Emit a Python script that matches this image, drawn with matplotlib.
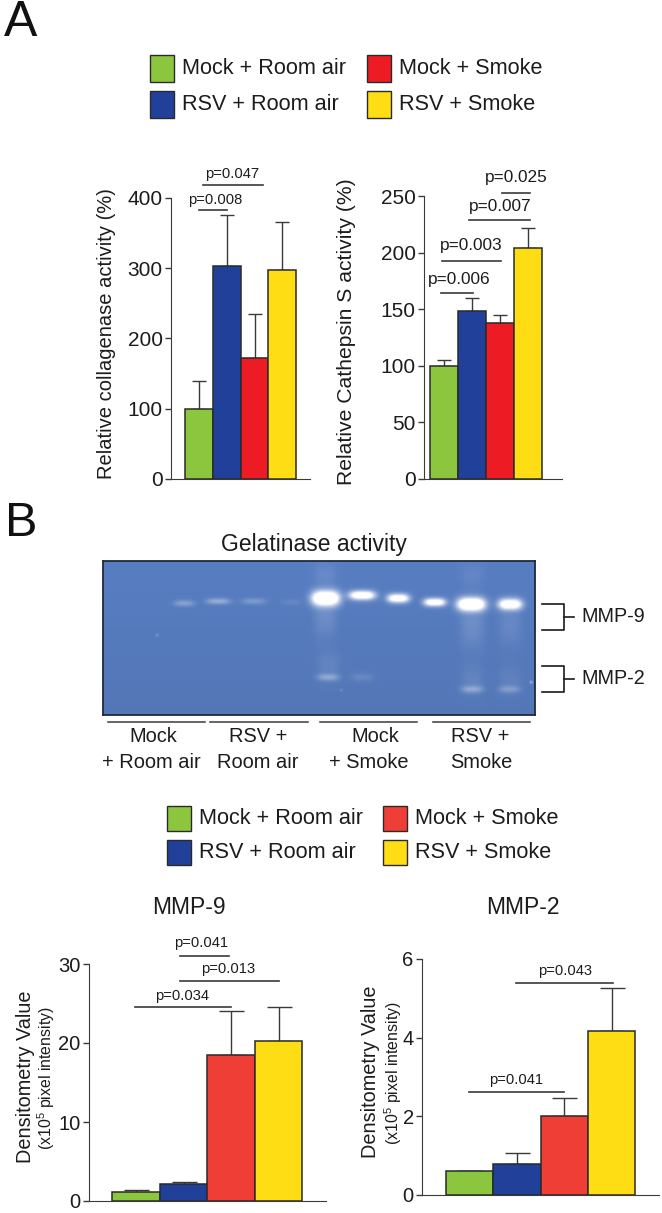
#!/usr/bin/env python3
"""Protease activity figure: panel A bar charts, panel B gel and densitometry."""
import numpy as np
import matplotlib

matplotlib.use("Agg")
import matplotlib.pyplot as plt
from matplotlib.patches import Rectangle

plt.rcParams["font.family"] = ["Liberation Sans", "DejaVu Sans"]
plt.rcParams["mathtext.default"] = "regular"

W, H = 662, 1213
INK = "#1c1c1c"
LINE = "#3a3a3a"

# --------------------------------------------------------------------------- #
# Data
# --------------------------------------------------------------------------- #
groups = ["Mock + Room air", "RSV + Room air", "Mock + Smoke", "RSV + Smoke"]

collagenase = [100, 303, 172, 297]
collagenase_top = [140, 376, 235, 365]
cathepsin = [100, 148, 138, 204]
cathepsin_top = [105, 160, 145, 222]
mmp9 = [1.1, 2.1, 18.5, 20.3]
mmp9_top = [1.45, 2.4, 24.0, 24.6]
mmp2 = [0.62, 0.8, 2.0, 4.17]
mmp2_top = [0.62, 1.08, 2.46, 5.27]

collagenase_ticks = [0, 100, 200, 300, 400]
cathepsin_ticks = [0, 50, 100, 150, 200, 250]
mmp9_ticks = [0, 10, 20, 30]
mmp2_ticks = [0, 2, 4, 6]

# p-value brackets: label, x from, x to, y of line, x of text, y of text
collagenase_p = [("p=0.008", 0, 1, 382, 0.57, 397),
                 ("p=0.047", 0.15, 2.3, 418, 1.21, 434)]
cathepsin_p = [("p=0.006", -0.1, 1.04, 164, 0.54, 176),
               ("p=0.003", -0.07, 2.04, 193, 0.97, 206),
               ("p=0.007", 0.9, 3.08, 229, 2.0, 241),
               ("p=0.025", 2.08, 3.08, 253, 2.6, 266)]
mmp9_p = [("p=0.034", -0.03, 2.0, 24.6, 0.97, 26.0),
          ("p=0.013", 0.92, 3.01, 27.8, 1.94, 29.4),
          ("p=0.041", 0.92, 1.96, 31.0, 1.38, 32.6)]
mmp2_p = [("p=0.041", 0, 1.99, 2.62, 0.98, 2.92),
          ("p=0.043", 0.98, 3.03, 5.39, 2.02, 5.69)]

# gel bands: x, y, half width, half height, strength
gel_bands = [
    (184, 603, 10, 3, 0.30), (218, 601, 12, 3, 0.38), (253.5, 601, 12, 3, 0.24),
    (291, 602, 10, 3, 0.09), (325.5, 598, 14, 7.5, 1.7), (362, 595, 13, 4.5, 1.4),
    (398, 598, 11, 4.5, 1.3), (434.5, 602, 11, 4, 1.3), (471, 604, 14, 6.5, 1.7),
    (510, 604, 12, 5.5, 1.4), (328, 677, 11, 3.5, 0.32), (362, 677, 11, 4, 0.12),
    (472, 689, 11, 3.5, 0.32), (509, 689, 11, 3.5, 0.24),
    # smears below and above the strong lanes
    (325, 618, 11, 18, 0.13), (325, 575, 11, 12, 0.10), (472, 625, 12, 22, 0.14),
    (510, 625, 11, 20, 0.10), (472, 575, 11, 12, 0.07), (328, 665, 11, 14, 0.09),
    (472, 680, 11, 15, 0.09), (510, 680, 11, 15, 0.07),
]
gel_specks = [(157, 635, 1.5, 1.5, 0.2), (531, 682, 1.5, 1.5, 0.4), (341, 690, 1.5, 1.5, 0.15)]

# --------------------------------------------------------------------------- #
fig = plt.figure(figsize=(W / 100, H / 100), dpi=100, facecolor="white")


def px_axes(left, right, top, bottom, **kw):
    return fig.add_axes([left / W, 1 - bottom / H, (right - left) / W, (bottom - top) / H], **kw)


def bar_panel(rect, xlim, values, tops, ticks, colors, pvals, cap, p_size, tick_size):
    ax = px_axes(*rect)
    x = np.arange(len(values))
    vals = np.array(values)
    ax.bar(x, vals, width=1.0, color=colors, edgecolor="#2a2a2a", lw=1.1, zorder=3)
    ax.errorbar(x, vals, yerr=[np.zeros(len(vals)), np.array(tops) - vals], fmt="none",
                ecolor=LINE, elinewidth=1.0, capsize=cap, capthick=1.0, zorder=2)
    ax.set_xlim(*xlim)
    ax.set_ylim(ticks[0], ticks[-1])
    ax.set_xticks([])
    ax.set_yticks(ticks)
    ax.tick_params(axis="y", length=4, width=1, color=LINE, labelsize=tick_size,
                   labelcolor=INK, pad=2)
    ax.spines[["top", "right"]].set_visible(False)
    ax.spines[["left", "bottom"]].set_color(LINE)
    ax.patch.set_alpha(0)
    for label, x0, x1, y, tx, ty in pvals:
        ax.plot([x0, x1], [y, y], color=LINE, lw=1.2, clip_on=False)
        ax.text(tx, ty, label, ha="center", va="center", fontsize=p_size, color=INK, clip_on=False)
    return ax


colors_a = ["#8CC63F", "#21409A", "#ED1C24", "#FFDD15"]
colors_b = ["#8CC63F", "#21409A", "#EF3E36", "#FFDD15"]

bar_panel((171, 310, 197.7, 479), (-1.01, 4.0), collagenase, collagenase_top,
          collagenase_ticks, colors_a, collagenase_p, 4.7, 10.6, 15)
bar_panel((424, 562, 196, 479), (-0.72, 4.23), cathepsin, cathepsin_top,
          cathepsin_ticks, colors_a, cathepsin_p, 4.7, 12.4, 15)
bar_panel((89, 326, 964, 1201), (-0.99, 4.0), mmp9, mmp9_top,
          mmp9_ticks, colors_b, mmp9_p, 9, 10.6, 14.5)
bar_panel((422, 659, 959, 1195), (-1.0, 4.0), mmp2, mmp2_top,
          mmp2_ticks, colors_b, mmp2_p, 9, 10.6, 14.5)

# --------------------------------------------------------------------------- #
# Gel picture
# --------------------------------------------------------------------------- #
gx0, gx1, gy0, gy1 = 103, 535, 561, 715
gel = fig.add_axes([gx0 / W, 1 - gy1 / H, (gx1 - gx0) / W, (gy1 - gy0) / H])
xx, yy = np.meshgrid(np.arange(gx0, gx1, 0.5), np.arange(gy0, gy1, 0.5))
level = np.zeros_like(xx)
for bx, by, bw, bh, amp in gel_bands + gel_specks:
    level += amp * np.exp(-(np.abs(xx - bx) / bw) ** 3 - (np.abs(yy - by) / bh) ** 2)
level = np.clip(level, 0, 1)
# background gets a bit darker towards the lower edge
shade = 1 - 0.06 * (yy - gy0) / (gy1 - gy0)
base = np.array([88, 126, 194]) / 255
img = base[None, None, :] * shade[:, :, None]
img = img + (1 - img) * level[:, :, None]
gel.imshow(img, extent=(gx0, gx1, gy1, gy0), aspect="auto", interpolation="bilinear")
gel.set_xticks([])
gel.set_yticks([])
for sp in gel.spines.values():
    sp.set_color("#1f2a3c")
    sp.set_linewidth(1.3)

# --------------------------------------------------------------------------- #
# Overlay in pixel coordinates: legends, panel letters, axis titles, gel labels
# --------------------------------------------------------------------------- #
ov = fig.add_axes([0, 0, 1, 1], zorder=10)
ov.set_xlim(0, W)
ov.set_ylim(H, 0)
ov.axis("off")


def legend_block(x_left, x_right, y_rows, sw, sh, text_dx, colors, size):
    spots = [(x_left, y_rows[0]), (x_left, y_rows[1]), (x_right, y_rows[0]), (x_right, y_rows[1])]
    for (sx, sy), name, c in zip(spots, groups, colors):
        ov.add_patch(Rectangle((sx, sy - sh / 2), sw, sh, fc=c, ec="#2a2a2a", lw=1))
        ov.text(sx + sw + text_dx, sy, name, ha="left", va="center", fontsize=size, color=INK)


legend_block(150, 367, (68, 104), 24, 27, 8, colors_a, 15.6)
legend_block(167, 383, (818, 852), 24, 25, 8, colors_b, 15.6)

ov.text(4, 23, "A", fontsize=36, color="#111111", ha="left", va="center")
ov.text(5, 523, "B", fontsize=35, color="#111111", ha="left", va="center")

ov.text(107, 334, "Relative collagenase activity (%)", rotation=90, ha="center", va="center",
        fontsize=14.5, color=INK)
ov.text(347, 332, "Relative Cathepsin S activity (%)", rotation=90, ha="center", va="center",
        fontsize=15.2, color=INK)
ov.text(26, 1077, "Densitometry Value", rotation=90, ha="center", va="center", fontsize=14.3, color=INK)
ov.text(46, 1078, r"(x10$^{5}$ pixel intensity)", rotation=90, ha="center", va="center",
        fontsize=11.4, color=INK)
ov.text(370, 1072, "Densitometry Value", rotation=90, ha="center", va="center", fontsize=14.3, color=INK)
ov.text(393, 1073, r"(x10$^{5}$ pixel intensity)", rotation=90, ha="center", va="center",
        fontsize=11.4, color=INK)

ov.text(189, 907, "MMP-9", ha="center", va="center", fontsize=16.5, color=INK)
ov.text(523, 907, "MMP-2", ha="center", va="center", fontsize=16.5, color=INK)
ov.text(314, 544, "Gelatinase activity", ha="center", va="center", fontsize=16.5, color=INK)

for x0, x1 in [(108, 205), (210, 307.6), (319.5, 416.6), (432.6, 529.6)]:
    ov.plot([x0, x1], [722, 722], color=LINE, lw=1.1)
for label, lx, ly in [("Mock", 153.5, 737), ("+ Room air", 151.6, 762),
                      ("RSV +", 258, 737), ("Room air", 258, 762),
                      ("Mock", 375.5, 737), ("+ Smoke", 369, 762),
                      ("RSV +", 480, 737), ("Smoke", 481, 762)]:
    ov.text(lx, ly, label, ha="center", va="center", fontsize=14.4, color=INK)

for label, y0, y1 in [("MMP-9", 604, 630), ("MMP-2", 666, 692)]:
    ov.plot([542, 564, 564, 542], [y0, y0, y1, y1], color="#1a1a1a", lw=1.2)
    ov.plot([564, 574], [(y0 + y1) / 2] * 2, color="#1a1a1a", lw=1.2)
    ov.text(581, (y0 + y1) / 2, label, ha="left", va="center", fontsize=14.2, color=INK)

fig.savefig("out.png", dpi=100)
